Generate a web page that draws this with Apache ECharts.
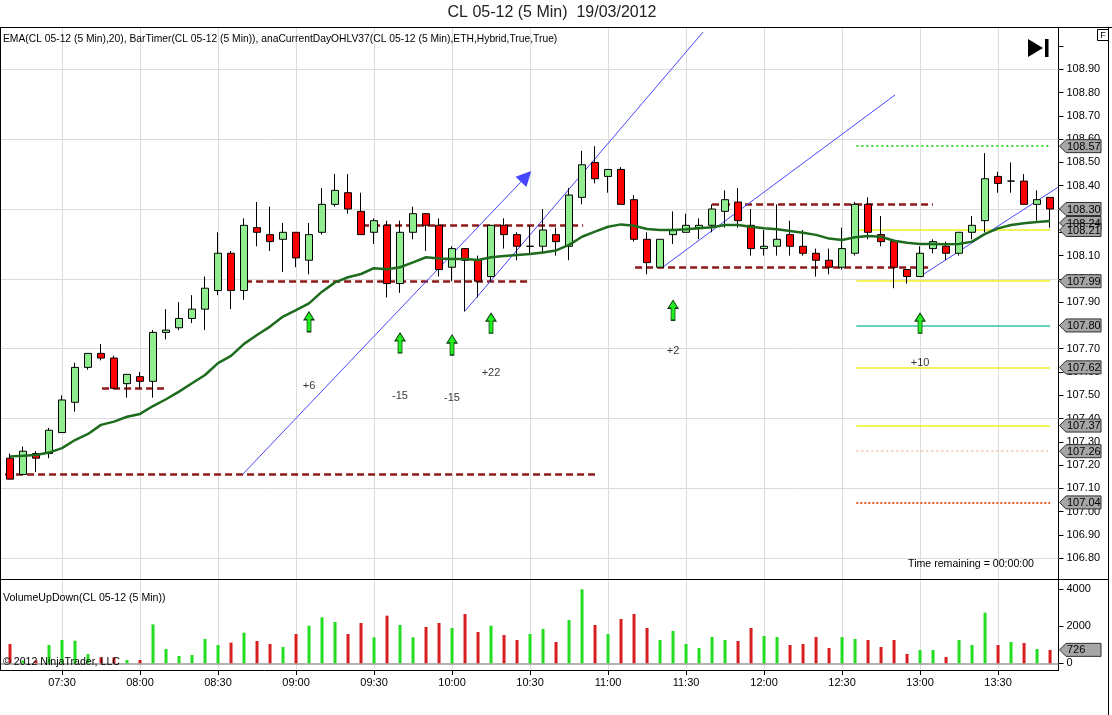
<!DOCTYPE html>
<html><head><meta charset="utf-8">
<script src="https://cdn.jsdelivr.net/npm/echarts@6/dist/echarts.min.js"></script>
<style>html,body{margin:0;padding:0;background:#fff}#c{width:1112px;height:715px}</style>
</head><body><div id="c"></div>
<script>
// ---------- DATA ----------
const startMinutes = 7 * 60 + 10; // first bar 07:10, 5-minute bars
const barTimes = [];
for (let i = 0; i < 81; i++) {
  const m = startMinutes + 5 * i;
  barTimes.push(String(Math.floor(m / 60)).padStart(2, '0') + ':' + String(m % 60).padStart(2, '0'));
}
const opens = [107.23,107.16,107.25,107.25,107.34,107.47,107.62,107.68,107.66,107.55,
  107.58,107.56,107.77,107.79,107.83,107.87,107.95,108.11,107.95,108.22,
  108.19,108.17,108.20,108.08,108.20,108.32,108.37,108.29,108.20,108.23,
  107.98,108.20,108.28,108.23,108.05,108.13,108.08,108.01,108.23,108.19,
  108.14,108.14,108.19,108.14,108.35,108.50,108.44,108.47,108.34,108.17,
  108.05,108.19,108.20,108.22,108.23,108.29,108.33,108.23,108.13,108.14,
  108.19,108.14,108.11,108.08,108.05,108.11,108.32,108.19,108.16,108.04,
  108.01,108.13,108.14,108.11,108.20,108.25,108.44,108.42,108.42,108.32,
  108.35];
const closes = [107.14,107.26,107.23,107.35,107.48,107.62,107.68,107.66,107.53,107.59,
  107.56,107.77,107.78,107.83,107.87,107.96,108.11,107.95,108.23,108.20,
  108.16,108.20,108.09,108.19,108.32,108.38,108.30,108.19,108.25,107.98,
  108.20,108.28,108.23,108.04,108.13,108.08,107.99,108.23,108.19,108.14,
  108.14,108.21,108.16,108.36,108.49,108.43,108.47,108.32,108.17,108.07,
  108.17,108.21,108.23,108.23,108.30,108.34,108.25,108.13,108.14,108.17,
  108.14,108.11,108.08,108.05,108.13,108.32,108.20,108.16,108.05,108.01,
  108.11,108.16,108.11,108.20,108.23,108.43,108.41,108.42,108.32,108.34,
  108.30];
const lows = [107.14,107.16,107.17,107.23,107.34,107.43,107.61,107.65,107.53,107.49,
  107.53,107.49,107.74,107.78,107.81,107.78,107.93,107.87,107.91,108.14,
  108.12,108.03,108.05,108.02,108.19,108.31,108.28,108.19,108.15,107.92,
  107.94,108.17,108.12,108.01,107.99,107.86,107.92,107.99,108.13,108.08,
  108.11,108.11,108.10,108.08,108.32,108.41,108.37,108.32,108.16,108.02,
  108.05,108.15,108.20,108.17,108.20,108.22,108.22,108.10,108.10,108.10,
  108.10,108.10,108.01,108.02,108.04,108.10,108.17,108.14,107.96,107.98,
  108.01,108.11,108.08,108.10,108.17,108.20,108.37,108.37,108.32,108.25,
  108.22];
const highs = [107.25,107.28,107.26,107.36,107.50,107.64,107.68,107.72,107.67,107.59,
  107.60,107.78,107.87,107.90,107.93,108.01,108.20,108.12,108.26,108.33,
  108.31,108.24,108.20,108.24,108.39,108.45,108.45,108.37,108.26,108.25,
  108.25,108.31,108.28,108.26,108.14,108.13,108.10,108.23,108.26,108.20,
  108.23,108.30,108.22,108.39,108.55,108.57,108.47,108.48,108.36,108.20,
  108.17,108.29,108.28,108.26,108.32,108.38,108.39,108.30,108.21,108.32,
  108.25,108.21,108.13,108.13,108.22,108.33,108.35,108.27,108.17,108.04,
  108.14,108.17,108.16,108.20,108.27,108.54,108.46,108.50,108.45,108.38,
  108.35];
const ema20 = [107.237,107.240,107.244,107.254,107.273,107.308,107.334,107.373,107.387,107.408,
  107.420,107.454,107.483,107.516,107.552,107.587,107.638,107.669,107.721,107.759,
  107.795,107.838,107.866,107.895,107.945,107.985,108.007,108.021,108.046,108.041,
  108.050,108.071,108.093,108.088,108.085,108.085,108.081,108.093,108.098,108.103,
  108.107,108.113,108.122,108.146,108.181,108.203,108.224,108.234,108.228,108.214,
  108.210,108.210,108.213,108.217,108.222,108.231,108.231,108.224,108.217,108.213,
  108.206,108.198,108.189,108.173,108.167,108.179,108.184,108.181,108.164,108.155,
  108.150,108.150,108.149,108.150,108.160,108.193,108.217,108.231,108.239,108.244,
  108.249];
const volumes = [1044,150,150,990,1260,1224,504,324,324,180,
  180,2106,774,396,450,1314,990,1116,1656,1206,
  1044,882,1584,2034,2484,2232,1584,2178,1404,2574,
  2070,1404,1962,2178,1908,2664,1692,2034,1530,1260,
  1584,1854,1152,2340,4000,2070,1584,2394,2664,1908,
  1260,1746,1044,828,1422,1260,1206,1908,1476,1422,
  990,1044,1422,828,1422,1314,1260,882,1260,504,
  720,720,342,1260,990,2736,990,1152,1098,774,
  726];

// drawn horizontal levels (dark red dashed): price, from bar, to bar
const userLevels = [107.16, 107.53, 107.99, 108.23, 108.05, 108.32];
const userLevelFrom = [-0.38, 7.08, 18.08, 27.08, 48.08, 54.0];
const userLevelTo = [45.0, 11.92, 40.0, 44.08, 70.77, 71.0];
// current-day OHL / pivot levels on the right
const ohlvLevels = [108.57, 108.21, 107.99, 107.80, 107.62, 107.37, 107.26, 107.04];
const ohlvFrom = 65.1, ohlvTo = 80.0;
// trend lines (bar index, price)
const trendX1 = [17.92, 35.0, 50.23, 70.0];
const trendY1 = [107.162, 107.862, 108.051, 108.01];
const trendX2 = [39.7, 53.31, 68.08, 80.6];
const trendY2 = [108.44, 109.06, 108.79, 108.393];
// signals
const signalBars = [23, 30, 34, 37, 51, 70];
const signalPrices = [107.816, 107.725, 107.716, 107.81, 107.865, 107.81];
const signalTexts = ['+6', '-15', '-15', '+22', '+2', '+10'];
const signalTextPrices = [107.541, 107.498, 107.49, 107.597, 107.69, 107.639];
// axis labels
const priceLabels = [106.8,106.9,107.0,107.1,107.2,107.3,107.4,107.5,107.6,107.7,107.8,107.9,108.0,108.1,108.2,108.3,108.4,108.5,108.6,108.7,108.8,108.9];
const priceTicks = priceLabels.concat([109.0]);
const gridPrices = [106.8,107.1,107.4,107.7,108.0,108.3,108.6,108.9];
const volumeLabels = [0, 2000, 4000];
const priceMarkers = [108.24, 108.57, 108.30, 108.21, 107.99, 107.80, 107.62, 107.37, 107.26, 107.04];
const volumeMarker = 726;

// ---------- CHART ----------
const FONT = 'Liberation Sans, Arial, sans-serif';
const X_MIN = -0.77, X_MAX = 80.65;
const P_MIN = 106.709, P_MAX = 109.0795;
const V_MIN = -362, V_MAX = 4530;
const tickBars = [];
barTimes.forEach((t, i) => { if (t.endsWith(':00') || t.endsWith(':30')) tickBars.push(i); });

const candleData = opens.map((o, i) => [i, o, closes[i], lows[i], highs[i]]);
const emaData = ema20.map((v, i) => [i, v]);
const volData = volumes.map((v, i) => ({
  value: [i, v],
  itemStyle: { color: closes[i] >= opens[i] ? '#22dd22' : '#d81e1e' }
}));

const ohlvStyles = [
  { color: '#33dd33', width: 2, type: [2, 3] },
  { color: '#eeee22', width: 1.5, type: 'solid' },
  { color: '#eeee22', width: 1.5, type: 'solid' },
  { color: '#33c4a0', width: 1.5, type: 'solid' },
  { color: '#eeee22', width: 1.5, type: 'solid' },
  { color: '#eeee22', width: 1.5, type: 'solid' },
  { color: '#f2c0a0', width: 1.5, type: [2, 3] },
  { color: '#f05a28', width: 2, type: [2, 2] }
];

const levelLines = [];
userLevels.forEach((p, k) => {
  levelLines.push([
    { coord: [userLevelFrom[k], p], lineStyle: { color: '#8e1a1a', width: 2.5, type: [7, 4] } },
    { coord: [userLevelTo[k], p] }
  ]);
});
ohlvLevels.forEach((p, k) => {
  levelLines.push([
    { coord: [ohlvFrom, p], lineStyle: ohlvStyles[k] },
    { coord: [ohlvTo, p] }
  ]);
});
trendX1.forEach((x, k) => {
  levelLines.push([
    { coord: [x, trendY1[k]], symbol: 'none', lineStyle: { color: '#4646ff', width: 1, type: 'solid' } },
    { coord: [trendX2[k], trendY2[k]], symbol: k === 0 ? 'triangle' : 'none', symbolSize: 15 }
  ]);
});

const arrowPath = 'path://M5,0 L10,8 L7,8 L7,20 L3,20 L3,8 L0,8 Z';

const chart = echarts.init(document.getElementById('c'), null, { renderer: 'canvas' });
const option = {
  animation: false,
  backgroundColor: '#ffffff',
  textStyle: { fontFamily: FONT },
  grid: [
    { left: 0, right: 53.5, top: 27.5, height: 552 },
    { left: 0, right: 53.5, top: 579.5, height: 90.5 }
  ],
  xAxis: [
    { type: 'value', gridIndex: 0, min: X_MIN, max: X_MAX, axisLine: { show: false, onZero: false }, axisTick: { show: false }, axisLabel: { show: false }, splitLine: { show: false } },
    { type: 'value', gridIndex: 1, min: X_MIN, max: X_MAX,
      axisLine: { show: true, onZero: false, lineStyle: { color: '#000', width: 1 } },
      axisTick: { show: true, customValues: tickBars, length: 5, lineStyle: { color: '#000' } },
      axisLabel: { customValues: tickBars, formatter: v => barTimes[Math.round(v)], color: '#000', fontSize: 11, margin: 7, fontFamily: FONT },
      splitLine: { show: false } }
  ],
  yAxis: [
    { type: 'value', gridIndex: 0, position: 'right', min: P_MIN, max: P_MAX,
      axisLine: { show: true, onZero: false, lineStyle: { color: '#000' } },
      axisTick: { show: true, customValues: priceTicks, length: 5, lineStyle: { color: '#000' } },
      axisLabel: { customValues: priceLabels, formatter: v => v.toFixed(2), color: '#000', fontSize: 11, margin: 8, fontFamily: FONT },
      splitLine: { show: false } },
    { type: 'value', gridIndex: 1, position: 'right', min: V_MIN, max: V_MAX,
      axisLine: { show: true, onZero: false, lineStyle: { color: '#000' } },
      axisTick: { show: true, customValues: volumeLabels, length: 5, lineStyle: { color: '#000' } },
      axisLabel: { customValues: volumeLabels, formatter: v => String(Math.round(v)), color: '#000', fontSize: 11, margin: 8, fontFamily: FONT },
      splitLine: { show: false } }
  ],
  series: [
    { name: 'gridMain', type: 'line', xAxisIndex: 0, yAxisIndex: 0, data: [], z: 1, silent: true,
      markLine: { silent: true, z: 1, symbol: ['none', 'none'], label: { show: false }, animation: false,
        lineStyle: { color: '#dcdcdc', width: 1, type: 'solid' },
        data: tickBars.map(x => ({ xAxis: x })).concat(gridPrices.map(y => ({ yAxis: y }))) } },
    { name: 'gridVol', type: 'line', xAxisIndex: 1, yAxisIndex: 1, data: [], z: 1, silent: true,
      markLine: { silent: true, z: 1, symbol: ['none', 'none'], label: { show: false }, animation: false,
        lineStyle: { color: '#dcdcdc', width: 1, type: 'solid' },
        data: tickBars.map(x => ({ xAxis: x })).concat([{ yAxis: 0, lineStyle: { color: '#9a9a9a', width: 1.5 } }]) } },
    { name: 'levels', type: 'line', xAxisIndex: 0, yAxisIndex: 0, data: [], z: 2, silent: true,
      markLine: { silent: true, z: 2, symbol: ['none', 'none'], label: { show: false }, animation: false,
        itemStyle: { color: '#0000ff' },
        data: levelLines } },
    { name: 'CL', type: 'candlestick', xAxisIndex: 0, yAxisIndex: 0, z: 3,
      encode: { x: 0, y: [1, 2, 3, 4] },
      data: candleData, barWidth: 8,
      itemStyle: { color: '#90ee90', color0: '#ff0000', borderColor: '#000', borderColor0: '#000', borderWidth: 1 } },
    { name: 'EMA', type: 'line', xAxisIndex: 0, yAxisIndex: 0, z: 4, data: emaData, symbol: 'none', smooth: false,
      lineStyle: { color: '#1d6b1d', width: 2.5 } },
    { name: 'Volume', type: 'bar', xAxisIndex: 1, yAxisIndex: 1, z: 3, data: volData, barWidth: 3 },
    { name: 'signals', type: 'scatter', xAxisIndex: 0, yAxisIndex: 0, z: 5,
      data: signalBars.map((b, k) => [b, signalPrices[k]]),
      symbol: arrowPath, symbolSize: [10, 20],
      itemStyle: { color: '#22ee22', borderColor: '#0b3d0b', borderWidth: 1, opacity: 1 } },
    { name: 'signalText', type: 'scatter', xAxisIndex: 0, yAxisIndex: 0, z: 5,
      data: signalBars.map((b, k) => [b, signalTextPrices[k]]),
      symbolSize: 0,
      label: { show: true, position: 'inside', formatter: p => signalTexts[p.dataIndex], color: '#000', fontSize: 11, fontFamily: FONT } }
  ]
};
chart.setOption(option);

// ---------- graphics ----------
const g = [];
function line(x1, y1, x2, y2, color, w) {
  g.push({ type: 'line', silent: true, z: 100, shape: { x1, y1, x2, y2 }, style: { stroke: color || '#000', lineWidth: w || 1 } });
}
function text(x, y, s, size, align, color) {
  g.push({ type: 'text', silent: true, z: 100, x, y,
    style: { text: s, font: size + 'px ' + FONT, fill: color || '#000', align: align || 'left', verticalAlign: 'middle' } });
}
text(552, 13, 'CL 05-12 (5 Min)  19/03/2012', 16, 'center', '#222');
text(3, 39, 'EMA(CL 05-12 (5 Min),20), BarTimer(CL 05-12 (5 Min)), anaCurrentDayOHLV37(CL 05-12 (5 Min),ETH,Hybrid,True,True)', 10.3);
text(1034, 564, 'Time remaining = 00:00:00', 10.6, 'right');
text(3, 598, 'VolumeUpDown(CL 05-12 (5 Min))', 10.6);
text(3, 662, '\u00A9 2012 NinjaTrader, LLC', 10.6);
// frame
line(0, 27.5, 1112, 27.5);
line(0.5, 27.5, 0.5, 670);
line(0, 579.5, 1108, 579.5);
line(1108.5, 27.5, 1108.5, 715);
// play-to-end icon
g.push({ type: 'polygon', silent: true, z: 100, shape: { points: [[1028, 39], [1043, 48], [1028, 57]] }, style: { fill: '#000' } });
g.push({ type: 'rect', silent: true, z: 100, shape: { x: 1045, y: 39, width: 3.5, height: 18 }, style: { fill: '#000' } });
// F box
g.push({ type: 'rect', silent: true, z: 100, shape: { x: 1097.5, y: 29.5, width: 11, height: 11 }, style: { fill: '#fff', stroke: '#000', lineWidth: 1 } });
text(1103, 35.5, 'F', 9, 'center');

function marker(y, label) {
  g.push({ type: 'polygon', silent: true, z: 110,
    shape: { points: [[1059.5, y], [1066, y - 6.5], [1101, y - 6.5], [1101, y + 6.5], [1066, y + 6.5]] },
    style: { fill: '#a6a6a6', stroke: '#303030', lineWidth: 1 } });
  g.push({ type: 'text', silent: true, z: 111, x: 1067, y: y + 0.5,
    style: { text: label, font: '11px ' + FONT, fill: '#000', align: 'left', verticalAlign: 'middle' } });
}
priceMarkers.forEach(p => {
  const y = chart.convertToPixel({ yAxisIndex: 0 }, p);
  marker(y, p.toFixed(2));
});
const vy = chart.convertToPixel({ yAxisIndex: 1 }, volumeMarker);
marker(vy, String(volumeMarker));

chart.setOption({ graphic: g });
</script>
</body></html>
